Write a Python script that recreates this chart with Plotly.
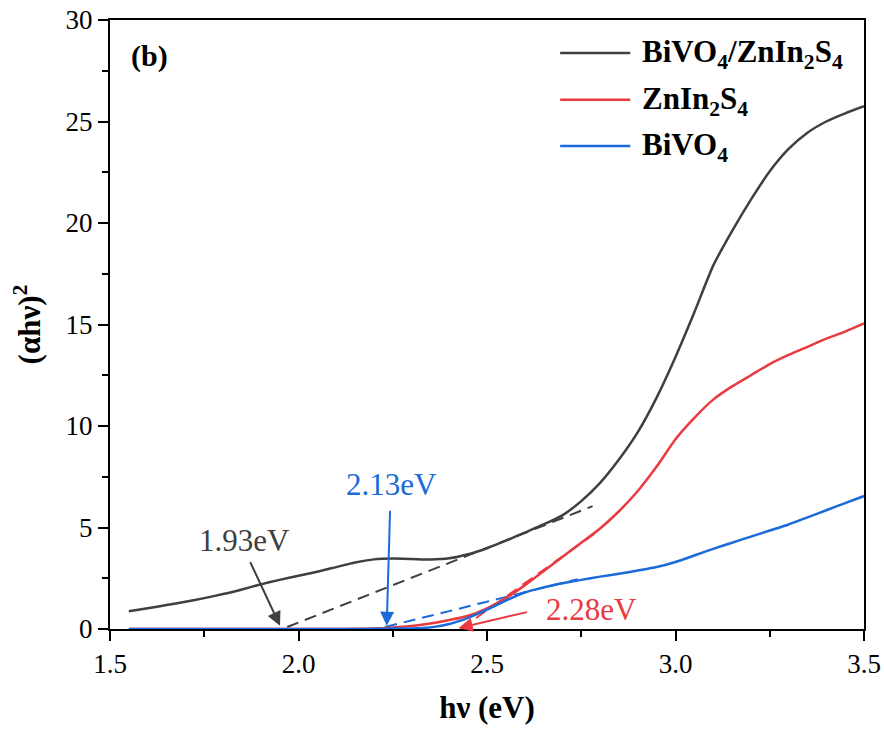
import plotly.graph_objects as go

# ---- data ----
hv = [1.55, 1.60, 1.65, 1.70, 1.75, 1.80, 1.85, 1.90, 1.95, 2.00,
      2.05, 2.10, 2.15, 2.20, 2.25, 2.30, 2.35, 2.40, 2.45, 2.50,
      2.55, 2.60, 2.65, 2.70, 2.75, 2.80, 2.85, 2.90, 2.95, 3.00,
      3.05, 3.10, 3.15, 3.20, 3.25, 3.30, 3.35, 3.40, 3.45, 3.50]

composite = [0.87, 1.02, 1.18, 1.34, 1.52, 1.72, 1.95, 2.20, 2.42, 2.62,
             2.82, 3.05, 3.28, 3.43, 3.47, 3.45, 3.42, 3.48, 3.68, 3.98,
             4.35, 4.75, 5.15, 5.60, 6.30, 7.20, 8.35, 9.70, 11.40, 13.40,
             15.60, 17.90, 19.60, 21.15, 22.55, 23.65, 24.45, 25.00, 25.40, 25.75]

znin2s4 = [0.0, 0.0, 0.0, 0.0, 0.0, 0.0, 0.0, 0.0, 0.0, 0.0,
           0.0, 0.0, 0.01, 0.02, 0.07, 0.15, 0.27, 0.44, 0.65, 1.02,
           1.52, 2.15, 2.85, 3.55, 4.25, 4.95, 5.80, 6.80, 8.00, 9.35,
           10.40, 11.30, 11.95, 12.50, 13.05, 13.50, 13.90, 14.30, 14.65, 15.05]

bivo4 = [0.0, 0.0, 0.0, 0.0, 0.0, 0.0, 0.0, 0.0, 0.0, 0.0,
         0.0, 0.0, 0.0, 0.01, 0.02, 0.03, 0.08, 0.25, 0.55, 0.95,
         1.40, 1.80, 2.05, 2.25, 2.42, 2.58, 2.72, 2.88, 3.05, 3.30,
         3.62, 3.95, 4.25, 4.55, 4.85, 5.15, 5.50, 5.85, 6.20, 6.55]

# tangent (Tauc extrapolation) lines
tan_comp_x = [1.97, 2.78]
tan_comp_y = [0.10, 6.05]
tan_bivo4_x = [2.23, 2.74]
tan_bivo4_y = [0.10, 2.45]
tan_znis_x = [2.43, 2.79]
tan_znis_y = [0.0, 4.76]

names = ["BiVO<sub>4</sub>/ZnIn<sub>2</sub>S<sub>4</sub>", "ZnIn<sub>2</sub>S<sub>4</sub>", "BiVO<sub>4</sub>"]
labels = ["1.93eV", "2.13eV", "2.28eV"]

GRAY = "#3f3f3f"
RED = "#ea3a3f"
BLUE = "#1a6ad9"
FONT = "Liberation Serif"

fig = go.Figure()

fig.add_trace(go.Scatter(x=tan_comp_x, y=tan_comp_y, mode="lines", showlegend=False,
                         line=dict(color=GRAY, width=2, dash="12px,7px")))
fig.add_trace(go.Scatter(x=tan_bivo4_x, y=tan_bivo4_y, mode="lines", showlegend=False,
                         line=dict(color=BLUE, width=2, dash="12px,7px")))
fig.add_trace(go.Scatter(x=tan_znis_x, y=tan_znis_y, mode="lines", showlegend=False,
                         line=dict(color=RED, width=2, dash="12px,7px")))

fig.add_trace(go.Scatter(x=hv, y=composite, mode="lines", name=names[0], showlegend=False,
                         line=dict(color=GRAY, width=2.5, shape="spline", smoothing=0.6)))
fig.add_trace(go.Scatter(x=hv, y=znin2s4, mode="lines", name=names[1], showlegend=False,
                         line=dict(color=RED, width=2.5, shape="spline", smoothing=0.6)))
fig.add_trace(go.Scatter(x=hv, y=bivo4, mode="lines", name=names[2], showlegend=False,
                         line=dict(color=BLUE, width=2.5, shape="spline", smoothing=0.6)))

# custom legend (long line samples like the reference)
leg_colors = [GRAY, RED, BLUE]
leg_y = [0.946, 0.869, 0.793]
shapes = []
annotations = []
for nm, col, yy in zip(names, leg_colors, leg_y):
    shapes.append(dict(type="line", xref="paper", yref="paper", x0=0.597, x1=0.690,
                       y0=yy, y1=yy, line=dict(color=col, width=2.5)))
    annotations.append(dict(xref="paper", yref="paper", x=0.703, y=yy - 0.002, text="<b>" + nm + "</b>",
                            showarrow=False, xanchor="left", yanchor="middle",
                            font=dict(family=FONT, size=31, color="black")))

annotations.append(dict(xref="paper", yref="paper", x=0.052, y=0.941, text="<b>(b)</b>",
                        showarrow=False, xanchor="center", yanchor="middle",
                        font=dict(family=FONT, size=30, color="black")))

# band-gap labels and arrows
annotations += [
    dict(x=1.858, y=4.38, text=labels[0], showarrow=False,
         font=dict(family=FONT, size=31, color=GRAY)),
    dict(x=1.951, y=0.16, ax=1.87, ay=3.37, axref="x", ayref="y", text="", showarrow=True,
         arrowhead=2, arrowsize=1.4, arrowwidth=2, arrowcolor=GRAY),
    dict(x=2.247, y=7.1, text=labels[1], showarrow=False,
         font=dict(family=FONT, size=31, color=BLUE)),
    dict(x=2.234, y=0.16, ax=2.243, ay=5.9, axref="x", ayref="y", text="", showarrow=True,
         arrowhead=2, arrowsize=1.4, arrowwidth=2, arrowcolor=BLUE),
    dict(x=2.776, y=0.94, text=labels[2], showarrow=False,
         font=dict(family=FONT, size=31, color=RED)),
    dict(x=2.425, y=0.05, ax=2.61, ay=0.85, axref="x", ayref="y", text="", showarrow=True,
         arrowhead=2, arrowsize=1.4, arrowwidth=2, arrowcolor=RED),
]

fig.update_layout(
    width=884, height=729,
    margin=dict(l=110, r=20, t=20, b=100, autoexpand=False),
    paper_bgcolor="white", plot_bgcolor="white",
    font=dict(family=FONT, size=26, color="black"),
    shapes=shapes, annotations=annotations,
    showlegend=False,
)

fig.update_xaxes(range=[1.5, 3.5], dtick=0.5, tick0=1.5, tickformat=".1f", automargin=False,
                 showgrid=False, zeroline=False, showline=True, linecolor="black", linewidth=2,
                 mirror=True, ticks="outside", ticklen=10, tickwidth=2, tickcolor="black",
                 minor=dict(dtick=0.25, ticks="outside", ticklen=6, tickwidth=2, tickcolor="black"),
                 tickfont=dict(family=FONT, size=27),
                 title=dict(text="<b>hν (eV)</b>", font=dict(family=FONT, size=31), standoff=18))
fig.update_yaxes(range=[0, 30], dtick=5, tick0=0, automargin=False,
                 showgrid=False, zeroline=False, showline=True, linecolor="black", linewidth=2,
                 mirror=True, ticks="outside", ticklen=10, tickwidth=2, tickcolor="black",
                 minor=dict(dtick=2.5, ticks="outside", ticklen=6, tickwidth=2, tickcolor="black"),
                 tickfont=dict(family=FONT, size=27),
                 title=dict(text="<b>(αhν)<sup>2</sup></b>", font=dict(family=FONT, size=31), standoff=16))

fig.write_html("out.html")
